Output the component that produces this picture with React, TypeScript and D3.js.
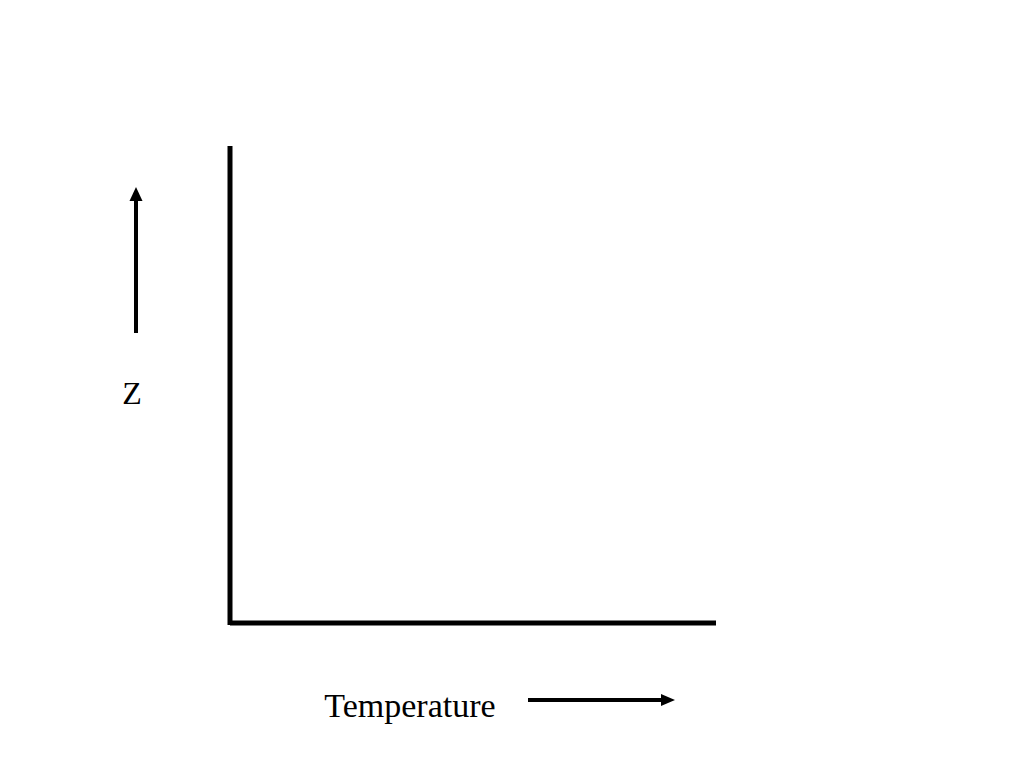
import React from "react";
import * as d3 from "d3";

const xLabel = "Temperature";
const yLabel = "Z";
const xDomain: [number, number] = [0, 1];
const yDomain: [number, number] = [0, 1];

export default function App() {
  const W = 1024, H = 768;
  const x = d3.scaleLinear().domain(xDomain).range([230, 716]);
  const y = d3.scaleLinear().domain(yDomain).range([623, 146]);
  const font = "'Liberation Serif', 'Times New Roman', serif";
  return (
    <svg width={W} height={H} style={{ position: "absolute", left: 0, top: 0, background: "#fff" }}>
      {/* axes */}
      <line x1={x(0)} y1={y(1)} x2={x(0)} y2={y(0) + 2} stroke="#000" strokeWidth={5} />
      <line x1={x(0)} y1={y(0)} x2={x(1)} y2={y(0)} stroke="#000" strokeWidth={5} />
      {/* y arrow */}
      <line x1={136} y1={333} x2={136} y2={198} stroke="#000" strokeWidth={4} />
      <path d="M136,187 L142.5,201 L129.5,201 Z" fill="#000" />
      <text x={132} y={404} fontFamily={font} fontSize={32} textAnchor="middle">{yLabel}</text>
      {/* x arrow */}
      <line x1={528} y1={700} x2={664} y2={700} stroke="#000" strokeWidth={4} />
      <path d="M675,700 L661,694 L661,706 Z" fill="#000" />
      <text x={410} y={717} fontFamily={font} fontSize={34} textAnchor="middle">{xLabel}</text>
    </svg>
  );
}
